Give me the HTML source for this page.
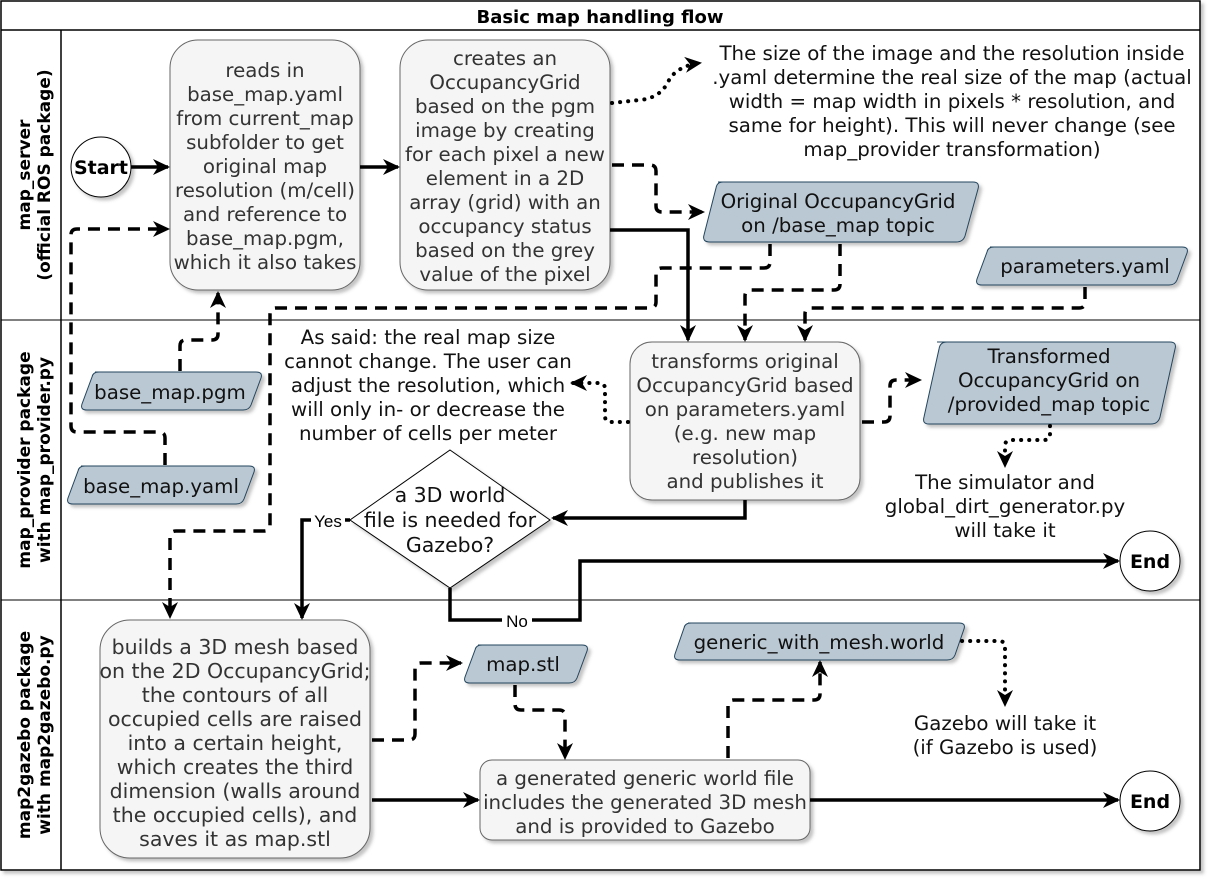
<!DOCTYPE html>
<html><head><meta charset="utf-8"><style>
html,body{margin:0;padding:0;background:#fff;width:1212px;height:882px;overflow:hidden}
svg text{font-family:"DejaVu Sans","Liberation Sans",sans-serif;font-size:19.8px;fill:#333;}
.t{fill:#111}
.lane{font-weight:bold;font-size:17px;fill:#000}
</style></head><body>
<svg width="1212" height="882" viewBox="0 0 1212 882" xmlns="http://www.w3.org/2000/svg">
<defs>
<filter id="sh" x="-10%" y="-10%" width="130%" height="130%"><feDropShadow dx="3" dy="3" stdDeviation="1.5" flood-color="#555" flood-opacity="0.35"/></filter>
<marker id="a" viewBox="-20 -10 24 20" refX="0" refY="0" markerWidth="24" markerHeight="20" orient="auto" markerUnits="userSpaceOnUse" style="overflow:visible"><path d="M-15,-8 L2,0 L-15,8 L-10,0 Z" fill="#000"/></marker>
</defs>
<style>.c{fill:none;stroke:#000;stroke-width:3.5;}.d{stroke-dasharray:12 8}.o{stroke-dasharray:0.1 8;stroke-linecap:round;stroke-width:4}</style>
<g filter="url(#sh)">
<rect x="1" y="1" width="1199" height="869" fill="#fff" stroke="#000" stroke-width="1.5"/>
</g>
<line x1="1" y1="30" x2="1200" y2="30" stroke="#000" stroke-width="1.5"/>
<line x1="61" y1="30" x2="61" y2="870" stroke="#000" stroke-width="1.5"/>
<line x1="1" y1="320" x2="1200" y2="320" stroke="#000" stroke-width="1"/>
<line x1="1" y1="600" x2="1200" y2="600" stroke="#000" stroke-width="1"/>
<text x="600" y="23" text-anchor="middle" style="font-weight:bold;font-size:18px;fill:#000">Basic map handling flow</text>
<text class="lane" transform="translate(30,175) rotate(-90)" text-anchor="middle">map_server</text>
<text class="lane" transform="translate(50,175) rotate(-90)" text-anchor="middle">(official ROS package)</text>
<text class="lane" transform="translate(30,460) rotate(-90)" text-anchor="middle">map_provider package</text>
<text class="lane" transform="translate(50,460) rotate(-90)" text-anchor="middle">with map_provider.py</text>
<text class="lane" transform="translate(30,735) rotate(-90)" text-anchor="middle">map2gazebo package</text>
<text class="lane" transform="translate(50,735) rotate(-90)" text-anchor="middle">with map2gazebo.py</text>

<g filter="url(#sh)" stroke-width="1">
<circle cx="101" cy="167" r="30" fill="#fff" stroke="#000"/>
<rect x="170" y="40" width="190" height="250" rx="28" fill="#f5f5f5" stroke="#666"/>
<rect x="400" y="40" width="210" height="250" rx="28" fill="#f5f5f5" stroke="#666"/>
<path d="M718,182 H973 Q980,182 978,189 L965,236 Q963,242 956,242 H710 Q702,242 704,235 L716,188 Q717,182 723,182 Z" fill="#bac8d3" stroke="#23445d"/>
<path d="M990,247 H1182 Q1189,247 1187,253 L1177,280 Q1175,285 1169,285 H982 Q975,285 977,279 L987,252 Q988,247 994,247 Z" fill="#bac8d3" stroke="#23445d"/>
<path d="M95,372 H256 Q263,372 261,378 L251,405 Q249,410 243,410 H87 Q80,410 82,404 L92,377 Q93,372 99,372 Z" fill="#bac8d3" stroke="#23445d"/>
<path d="M81,466 H249 Q256,466 254,472 L244,499 Q242,504 236,504 H73 Q66,504 68,498 L78,471 Q79,466 85,466 Z" fill="#bac8d3" stroke="#23445d"/>
<rect x="630" y="342" width="230" height="158" rx="22" fill="#f5f5f5" stroke="#666"/>
<path d="M937,342 H1170 Q1177,342 1175,349 L1160,417 Q1158,424 1151,424 H929 Q922,424 924,417 L939,349 Q940,342 947,342 Z" fill="#bac8d3" stroke="#23445d"/>
<path d="M450,450 L550,520 L450,588 L350,520 Z" fill="#fff" stroke="#000"/>
<circle cx="1150" cy="561" r="30" fill="#fff" stroke="#000"/>
<rect x="100" y="620" width="270" height="238" rx="30" fill="#f5f5f5" stroke="#666"/>
<path d="M478,645 H582 Q589,645 587,651 L577,678 Q575,683 569,683 H470 Q463,683 465,677 L475,650 Q476,645 482,645 Z" fill="#bac8d3" stroke="#23445d"/>
<path d="M688,623 H959 Q966,623 964,629 L955,655 Q953,660 947,660 H680 Q673,660 675,654 L684,628 Q685,623 691,623 Z" fill="#bac8d3" stroke="#23445d"/>
<rect x="480" y="760" width="330" height="80" rx="12" fill="#f5f5f5" stroke="#666"/>
<circle cx="1150" cy="801" r="30" fill="#fff" stroke="#000"/>
</g>

<g class="c">
<path d="M131,167 H168" marker-end="url(#a)"/>
<path d="M360,167 H398" marker-end="url(#a)"/>
<path class="o" d="M612,103 L640,100 Q660,98 668,82 Q676,66 700,63" marker-end="url(#a)"/>
<path class="d" d="M612,165 H650 Q656,165 656,171 V206 Q656,212 662,212 H703" marker-end="url(#a)"/>
<path d="M610,230 H688 V340" marker-end="url(#a)"/>
<path class="d" d="M770,244 V262 Q770,268 764,268 H662 Q656,268 656,274 V302 Q656,308 650,308 H276 Q270,308 270,314 V525 Q270,531 264,531 H176 Q170,531 170,537 V617" marker-end="url(#a)"/>
<path class="d" d="M840,244 V284 Q840,290 834,290 H751 Q745,290 745,296 V340" marker-end="url(#a)"/>
<path class="d" d="M1085,287 V302 Q1085,308 1079,308 H811 Q805,308 805,314 V340" marker-end="url(#a)"/>
<path class="d" d="M180,371 V346 Q180,340 186,340 H212 Q218,340 218,334 V293" marker-end="url(#a)"/>
<path class="d" d="M165,465 V438 Q165,432 159,432 H77 Q71,432 71,426 V235 Q71,229 77,229 H168" marker-end="url(#a)"/>
<path class="o" d="M628,422 H611 Q605,422 605,416 V389 Q605,383 599,383 H572" marker-end="url(#a)"/>
<path class="d" d="M862,422 H884 Q890,422 890,416 V386 Q890,380 896,380 H920" marker-end="url(#a)"/>
<path class="o" d="M1050,426 V434 Q1050,440 1044,440 H1011 Q1005,440 1005,446 V466" marker-end="url(#a)"/>
<path d="M745,500 V518 H553" marker-end="url(#a)"/>
<path d="M350,520 H302 V618" marker-end="url(#a)"/>
<path d="M450,588 V620 H580 V561 H1118" marker-end="url(#a)"/>
<path class="d" d="M372,740 H409 Q415,740 415,734 V669 Q415,663 421,663 H461" marker-end="url(#a)"/>
<path class="d" d="M515,685 V704 Q515,710 521,710 H559 Q565,710 565,716 V758" marker-end="url(#a)"/>
<path d="M372,800 H478" marker-end="url(#a)"/>
<path class="d" d="M728,758 V706 Q728,700 734,700 H814 Q820,700 820,694 V662" marker-end="url(#a)"/>
<path class="o" d="M962,641 H999 Q1005,641 1005,647 V705" marker-end="url(#a)"/>
<path d="M810,800 H1118" marker-end="url(#a)"/>
</g>
<rect x="311" y="511" width="34" height="20" fill="#fff"/>
<text x="328" y="527" text-anchor="middle" style="font-size:17px;font-family:'Liberation Sans',sans-serif;fill:#000">Yes</text>
<rect x="502" y="611" width="30" height="20" fill="#fff"/>
<text x="517" y="627" text-anchor="middle" style="font-size:17px;font-family:'Liberation Sans',sans-serif;fill:#000">No</text>

<g text-anchor="middle">
<text x="101" y="174" style="font-weight:bold;fill:#000;font-size:19px">Start</text>
<text x="1150" y="568" style="font-weight:bold;fill:#000;font-size:19px">End</text>
<text x="1150" y="808" style="font-weight:bold;fill:#000;font-size:19px">End</text>
<text x="265"><tspan x="265" y="77">reads in</tspan><tspan x="265" y="101">base_map.yaml</tspan><tspan x="265" y="125">from current_map</tspan><tspan x="265" y="149">subfolder to get</tspan><tspan x="265" y="173">original map</tspan><tspan x="265" y="197">resolution (m/cell)</tspan><tspan x="265" y="221">and reference to</tspan><tspan x="265" y="245">base_map.pgm,</tspan><tspan x="265" y="269">which it also takes</tspan></text>
<text x="505"><tspan x="505" y="65">creates an</tspan><tspan x="505" y="89">OccupancyGrid</tspan><tspan x="505" y="113">based on the pgm</tspan><tspan x="505" y="137">image by creating</tspan><tspan x="505" y="161">for each pixel a new</tspan><tspan x="505" y="185">element in a 2D</tspan><tspan x="505" y="209">array (grid) with an</tspan><tspan x="505" y="233">occupancy status</tspan><tspan x="505" y="257">based on the grey</tspan><tspan x="505" y="281">value of the pixel</tspan></text>
<text class="t"><tspan x="952" y="60">The size of the image and the resolution inside</tspan><tspan x="952" y="84">.yaml determine the real size of the map (actual</tspan><tspan x="952" y="108">width = map width in pixels * resolution, and</tspan><tspan x="952" y="132">same for height). This will never change (see</tspan><tspan x="952" y="156">map_provider transformation)</tspan></text>
<text class="t"><tspan x="838" y="208">Original OccupancyGrid</tspan><tspan x="838" y="232">on /base_map topic</tspan></text>
<text class="t" x="1085" y="273">parameters.yaml</text>
<text class="t" x="170" y="399">base_map.pgm</text>
<text class="t" x="161" y="493">base_map.yaml</text>
<text class="t"><tspan x="428" y="344">As said: the real map size</tspan><tspan x="428" y="368">cannot change. The user can</tspan><tspan x="428" y="392">adjust the resolution, which</tspan><tspan x="428" y="416">will only in- or decrease the</tspan><tspan x="428" y="440">number of cells per meter</tspan></text>
<text><tspan x="745" y="368">transforms original</tspan><tspan x="745" y="392">OccupancyGrid based</tspan><tspan x="745" y="416">on parameters.yaml</tspan><tspan x="745" y="440">(e.g. new map</tspan><tspan x="745" y="464">resolution)</tspan><tspan x="745" y="488">and publishes it</tspan></text>
<text class="t"><tspan x="1049" y="363">Transformed</tspan><tspan x="1049" y="387">OccupancyGrid on</tspan><tspan x="1049" y="411">/provided_map topic</tspan></text>
<text class="t"><tspan x="1005" y="489">The simulator and</tspan><tspan x="1005" y="513">global_dirt_generator.py</tspan><tspan x="1005" y="537">will take it</tspan></text>
<text class="t" style="font-size:20.5px"><tspan x="450" y="502">a 3D world</tspan><tspan x="450" y="527">file is needed for</tspan><tspan x="450" y="552">Gazebo?</tspan></text>
<text style="font-size:20.5px"><tspan x="235" y="654">builds a 3D mesh based</tspan><tspan x="235" y="678">on the 2D OccupancyGrid;</tspan><tspan x="235" y="702">the contours of all</tspan><tspan x="235" y="726">occupied cells are raised</tspan><tspan x="235" y="750">into a certain height,</tspan><tspan x="235" y="774">which creates the third</tspan><tspan x="235" y="798">dimension (walls around</tspan><tspan x="235" y="822">the occupied cells), and</tspan><tspan x="235" y="846">saves it as map.stl</tspan></text>
<text class="t" x="523" y="671">map.stl</text>
<text class="t" x="819" y="649">generic_with_mesh.world</text>
<text class="t"><tspan x="1005" y="730">Gazebo will take it</tspan><tspan x="1005" y="754">(if Gazebo is used)</tspan></text>
<text><tspan x="645" y="785">a generated generic world file</tspan><tspan x="645" y="809">includes the generated 3D mesh</tspan><tspan x="645" y="833">and is provided to Gazebo</tspan></text>
</g>
</svg>
</body></html>
